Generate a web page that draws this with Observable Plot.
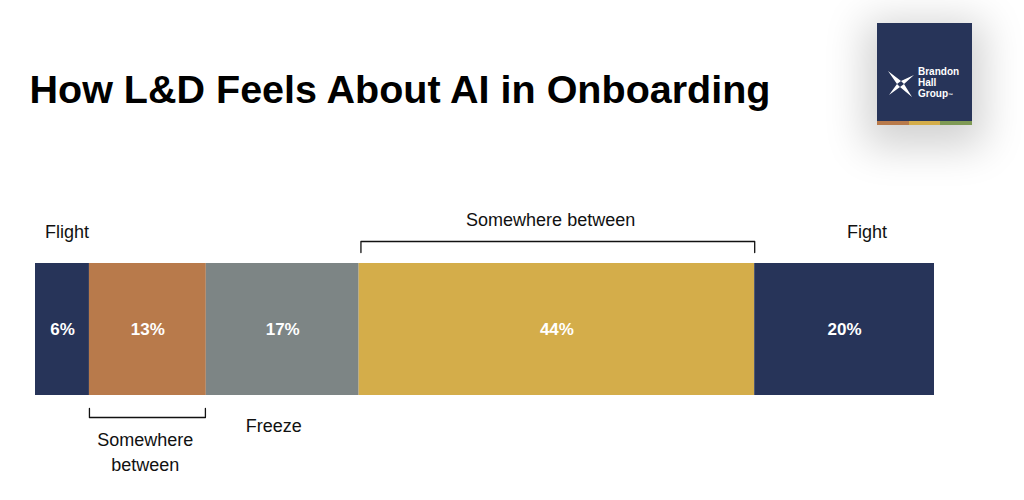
<!DOCTYPE html>
<html><head><meta charset="utf-8">
<script src="https://cdn.jsdelivr.net/npm/d3@7"></script>
<script src="https://cdn.jsdelivr.net/npm/@observablehq/plot@0.6"></script>
<style>
body{margin:0;background:#fff;font-family:"Liberation Sans",Arial,sans-serif;}
#wrap{position:relative;width:1024px;height:500px;overflow:hidden}
#logo{position:absolute;left:877px;top:23px;width:95px;height:102px;background:#273459;box-shadow:0 10px 40px 12px rgba(0,0,0,0.18);}
#logo .stripes{position:absolute;bottom:0;left:0;width:100%;height:4px;display:flex}
#logo .stripes div{flex:1}
#logo .txt{position:absolute;left:41px;top:43px;color:#fff;font:bold 10px/11px "Liberation Sans",Arial,sans-serif}
</style></head><body>
<div id="wrap"><div id="logo">
<svg width="30" height="30" style="position:absolute;left:9px;top:46px" viewBox="0 0 30 30"><path d="M2 2 L15 12 L28 6 L18 15 L26 28 L14 18 L3 26 L11 15 Z" fill="#fff"/><path d="M15 12 L18 15 L14 18 L11 15Z" fill="#273459"/></svg>
<div class="txt">Brandon<br>Hall<br>Group<span style="font-size:5px">™</span></div>
<div class="stripes"><div style="background:#b87a4b"></div><div style="background:#d4ad4a"></div><div style="background:#7f9a55"></div></div>
</div></div>
<script>
const categories = ["Flight","Somewhere between (low)","Freeze","Somewhere between","Fight"];
const values = [6,13,17,44,20];
const colors = ["#273459","#b87a4b","#7d8585","#d4ad4a","#273459"];
let acc=0;
const segs = categories.map((c,i)=>{const s={c,x1:acc,x2:acc+values[i],v:values[i],col:colors[i]};acc+=values[i];return s;});
const labelsTop = [{t:"Flight",x:3.5,y:232},{t:"Fight",x:92.5,y:232},{t:"Somewhere between",x:57.3,y:220}];
const labelsBot = [{t:"Freeze",x:26.5,y:426},{t:"Somewhere",x:12.2,y:440},{t:"between",x:12.2,y:465}];
const brackets = [{a:36.2,b:80,y:241,d:11},{a:6,b:18.9,y:417,d:-9}];
const bl=[];brackets.forEach((b,i)=>{bl.push({k:i,x:b.a,y:b.y+b.d},{k:i,x:b.a,y:b.y},{k:i,x:b.b,y:b.y},{k:i,x:b.b,y:b.y+b.d});});
const chart = Plot.plot({
  width:1024,height:500,margin:0,
  x:{domain:[0,100],range:[35,934],axis:null},
  y:{domain:[500,0],range:[500,0],axis:null},
  style:{fontFamily:"Liberation Sans, Arial, sans-serif",background:"transparent"},
  marks:[
    Plot.rect(segs,{x1:"x1",x2:"x2",y1:263,y2:395,fill:"col"}),
    Plot.text(segs,{x:d=>(d.x1+d.x2)/2,y:329,text:d=>d.v+"%",fill:"#fff",fontSize:17,fontWeight:"bold"}),
    Plot.text(labelsTop.concat(labelsBot),{x:"x",y:"y",text:"t",fontSize:18,fill:"#111"}),
    Plot.line(bl,{x:"x",y:"y",z:"k",stroke:"#111",strokeWidth:1.3}),
    Plot.text(["How L&D Feels About AI in Onboarding"],{x:0,y:90,dx:-6,text:d=>d,textAnchor:"start",fontSize:39.5,fontWeight:"bold",fill:"#000"})
  ]
});
chart.style.position="absolute";chart.style.left="0";chart.style.top="0";
document.getElementById("wrap").prepend(chart);
</script></body></html>
